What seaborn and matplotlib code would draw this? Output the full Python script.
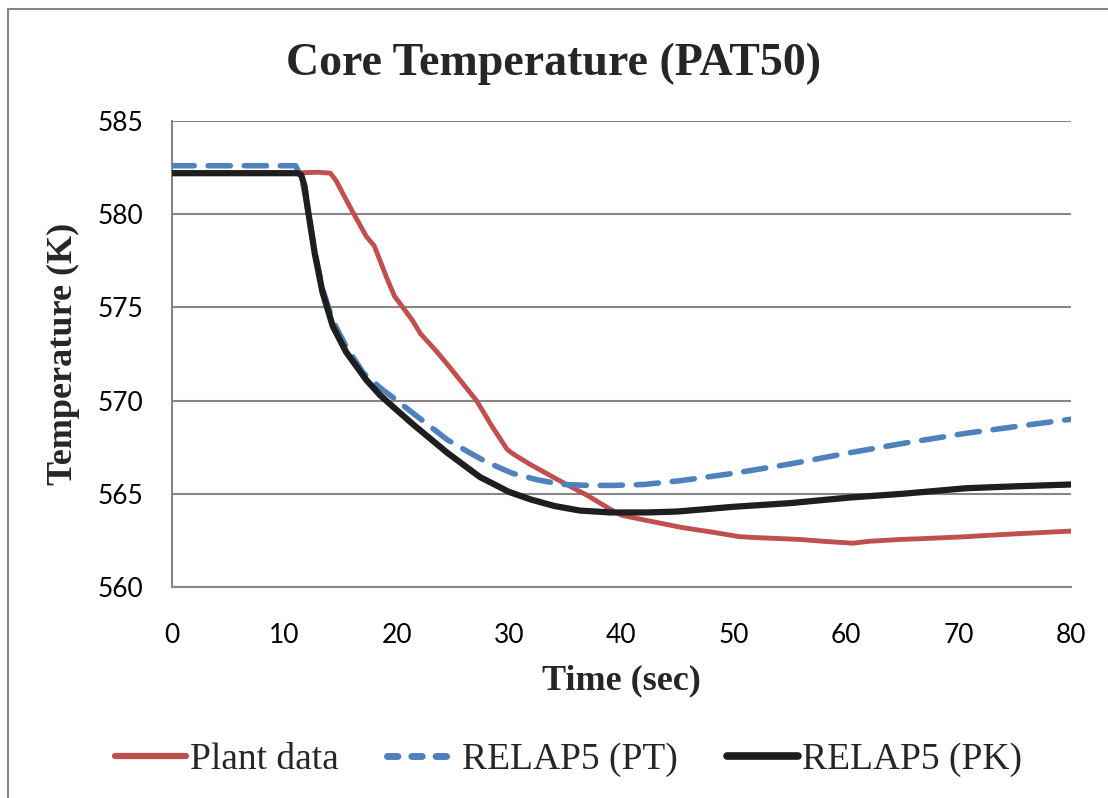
import numpy as np
import pandas as pd
import seaborn as sns
import matplotlib
matplotlib.use("Agg")
from matplotlib import pyplot as plt
from matplotlib.lines import Line2D

# ---- data ----
plant_t = [0, 10, 13, 14.1, 14.6, 15.3, 16.1, 17.3, 18.0, 19.1, 19.8, 20.3, 21.4, 22.1,
           23.6, 24.7, 25.5, 27.1, 28.5, 29.8, 30.2, 31.8, 34.8, 37, 39.2, 40, 42, 45.3,
           48, 50.5, 52, 55.9, 58, 60.6, 62, 64.8, 67, 70.7, 72, 75, 80]
plant_T = [582.2, 582.2, 582.25, 582.2, 581.8, 581.0, 580.1, 578.8, 578.3, 576.6, 575.6,
           575.2, 574.3, 573.6, 572.6, 571.8, 571.2, 570.0, 568.6, 567.4, 567.2, 566.6,
           565.6, 564.9, 564.1, 563.85, 563.6, 563.2, 562.95, 562.7, 562.65, 562.55,
           562.45, 562.35, 562.45, 562.55, 562.6, 562.7, 562.75, 562.85, 563.0]

pt_t = [0, 11, 11.5, 12.0, 12.7, 13.4, 14.3, 15.5, 17.0, 18.5, 19.7, 21.5, 23.0, 24.5,
        26.5, 28, 30.3, 32.5, 34.8, 37, 39.2, 42, 45.2, 50, 55, 60.3, 65, 70.7, 75, 80]
pt_T = [582.6, 582.6, 582.0, 580.6, 578.0, 576.0, 574.3, 572.9, 571.5, 570.7, 570.15,
        569.3, 568.6, 567.9, 567.2, 566.7, 566.1, 565.75, 565.5, 565.45, 565.45, 565.5,
        565.7, 566.1, 566.6, 567.2, 567.7, 568.25, 568.6, 569.0]

pk_t = [0, 11.2, 11.5, 11.8, 12.0, 12.7, 13.4, 14.3, 15.5, 17.3, 18.5, 19.7, 21.5, 24.5,
        27.4, 30, 31.9, 34, 36.3, 39, 42.3, 45, 49.9, 55, 60.3, 65, 70.7, 75, 80]
pk_T = [582.2, 582.2, 582.1, 581.5, 580.6, 577.9, 575.8, 574.0, 572.6, 571.1, 570.3,
        569.65, 568.7, 567.2, 565.9, 565.1, 564.7, 564.35, 564.1, 564.0, 564.0, 564.05,
        564.3, 564.5, 564.8, 565.0, 565.3, 565.4, 565.5]

series_names = ['Plant data', 'RELAP5 (PT)', 'RELAP5 (PK)']
colors = ['#C0504D', '#4F81BD', '#1E1E1E']
x_ticks = [0, 10, 20, 30, 40, 50, 60, 70, 80]
y_ticks = [560, 565, 570, 575, 580, 585]

sns.set_style('white')
plt.rcParams['font.family'] = ['Liberation Serif', 'DejaVu Serif']

fig = plt.figure(figsize=(11.08, 7.98), dpi=100)
ax = fig.add_axes([172 / 1108, 1 - 587 / 798, (1071 - 172) / 1108, (587 - 121) / 798])

grey = '#868686'
data = [(plant_t, plant_T), (pt_t, pt_T), (pk_t, pk_T)]
for (t, T), name, c in zip(data, series_names, colors):
    df = pd.DataFrame({'t': t, 'T': T})
    if name == 'RELAP5 (PT)':
        sns.lineplot(data=df, x='t', y='T', ax=ax, color=c, lw=4, label=name, zorder=3)
        ax.lines[-1].set_dashes((4, 2.5))
        ax.lines[-1].set_dash_capstyle('round')
    elif name == 'Plant data':
        sns.lineplot(data=df, x='t', y='T', ax=ax, color=c, lw=3.5, label=name, zorder=2)
    else:
        sns.lineplot(data=df, x='t', y='T', ax=ax, color=c, lw=4.5, label=name, zorder=4)
    ax.lines[-1].set_solid_capstyle('round')
    ax.lines[-1].set_solid_joinstyle('round')

ax.set_xlim(0, 80)
ax.set_ylim(560, 585)
ax.set_xticks(x_ticks)
ax.set_yticks(y_ticks)
ax.yaxis.grid(True, color=grey, lw=1.5)
ax.xaxis.grid(False)
for s in ['top', 'right']:
    ax.spines[s].set_visible(False)
for s in ['left', 'bottom']:
    ax.spines[s].set_color(grey)
    ax.spines[s].set_linewidth(1.5)
ax.tick_params(axis='both', direction='out', length=7, width=1.5, color=grey,
               labelsize=19, labelcolor='black')
ax.tick_params(axis='y', pad=14)
ax.tick_params(axis='x', pad=19)
for lab in ax.get_xticklabels() + ax.get_yticklabels():
    lab.set_family(['Lato', 'DejaVu Sans'])

ax.set_xlabel('Time (sec)', fontsize=26, fontweight='bold', labelpad=12)
ax.set_ylabel('Temperature (K)', fontsize=26, fontweight='bold', labelpad=12)
fig.suptitle('Core Temperature (PAT50)', fontsize=33, fontweight='bold', y=0.946)

ax.get_legend().remove()
handles = [Line2D([], [], color=colors[0], lw=4.5, solid_capstyle='round'),
           Line2D([], [], color=colors[1], lw=5, dashes=(1.5, 2.0), dash_capstyle='round'),
           Line2D([], [], color=colors[2], lw=5.5, solid_capstyle='round')]
fig.legend(handles, series_names, loc='center', bbox_to_anchor=(568 / 1108, 1 - 760 / 798),
           ncol=3, frameon=False, fontsize=27, handlelength=1.9, handletextpad=0.1,
           columnspacing=1.3)

# chart-area frame (only left and top edges visible in the reference)
fig.add_artist(Line2D([8 / 1108, 8 / 1108], [0, 1 - 9 / 798], color=grey, lw=1.5,
                      transform=fig.transFigure))
fig.add_artist(Line2D([8 / 1108, 1], [1 - 9 / 798, 1 - 9 / 798], color=grey, lw=1.5,
                      transform=fig.transFigure))

fig.savefig('out.png', dpi=100)
